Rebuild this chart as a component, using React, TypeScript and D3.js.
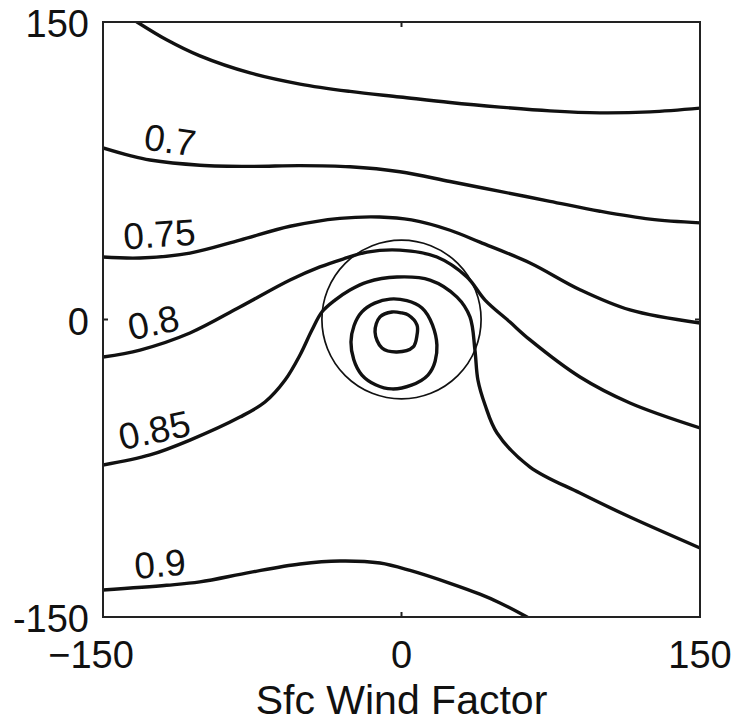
import React from "react";
import * as d3 from "d3";

// Contour lines of the response surface, in data units (x: wind factor, y: second factor)
const contour065: [number, number][] = [
  [-132.9, 150], [-117.8, 140.9], [-101.3, 132.9], [-76.1, 124.3], [-51.0, 118.7],
  [-25.9, 115.0], [-0.8, 112.2], [24.4, 109.4], [49.5, 107.1], [74.6, 105.2],
  [99.7, 104.2], [124.9, 104.7], [150, 106.6],
];
const contour070: [number, number][] = [
  [-150, 86.5], [-136.4, 82.6], [-126.4, 80.4], [-101.3, 77.8], [-76.1, 77.2],
  [-51.0, 77.6], [-25.9, 77.0], [-0.8, 74.5], [24.4, 69.6], [49.5, 64.6],
  [74.6, 59.6], [99.7, 54.6], [124.9, 50.6], [150, 48.7],
];
const contour075: [number, number][] = [
  [-150, 31.5], [-131.4, 31.0], [-106.3, 33.5], [-81.2, 40.0], [-56.0, 47.0],
  [-31.0, 51.0], [-11.0, 51.7], [5.0, 50.2], [24.4, 45.0], [39.4, 39.0],
  [64.6, 28.5], [89.7, 15.0], [114.8, 4.8], [150, -1.8],
];
const contour080: [number, number][] = [
  [-150, -18.9], [-131.4, -15.4], [-106.3, -6.8], [-81.2, 6.3], [-56.0, 19.9],
  [-41.0, 26.5], [-29.4, 30.5], [-17.3, 34.0], [-0.8, 35.0], [17.8, 31.5],
  [32.9, 21.4], [42.0, 9.8], [54.5, -1.3], [64.6, -10.3],
  [89.7, -29.0], [114.8, -42.1], [150, -54.7],
];
const contour085: [number, number][] = [
  [-150, -73.4], [-126.4, -68.3], [-106.3, -60.8], [-81.2, -49.2], [-68.6, -41.6],
  [-58.5, -30.5], [-51.0, -17.9], [-45.0, -5.3], [-40.0, 3.8], [-33.4, 9.8],
  [-25.9, 14.9], [-17.3, 18.9], [-2.3, 21.4], [14.3, 19.9], [27.9, 11.3],
  [34.4, 1.3], [36.9, -15.4], [38.4, -30.5], [42.0, -43.1], [48.0, -57.2],
  [64.6, -74.4], [89.7, -87.5], [114.8, -99.6], [150, -115.2],
];
const contour090: [number, number][] = [
  [-150, -136.4], [-118.0, -134.0], [-101.3, -132.3], [-76.1, -127.5], [-51.0, -123.3],
  [-30.9, -121.8], [-10.8, -122.8], [4.3, -126.5], [24.4, -133.0], [39.4, -138.5],
  [49.5, -142.9], [63.1, -150],
];
// Closed contours around the centre
const ringOuter: [number, number][] = [
  [-5.8, 10.3], [10.3, 5.8], [17.8, -12.9], [13.3, -28.0],
  [-4.8, -35.0], [-19.9, -28.0], [-25.4, -11.3], [-19.9, 3.8],
];
const ringInner: [number, number][] = [
  [-4.8, 3.8], [0.2, 3.3], [3.3, 2.3], [7.8, -2.8], [7.8, -7.8], [5.8, -13.9],
  [-2.3, -16.4], [-9.8, -14.4], [-13.3, -6.3], [-10.8, 1.3],
];
// Reference circle radius, centred on the origin
const circleRadius = 40;

const openContours = [
  { level: 0.65, points: contour065 },
  { level: 0.7, points: contour070 },
  { level: 0.75, points: contour075 },
  { level: 0.8, points: contour080 },
  { level: 0.85, points: contour085 },
  { level: 0.9, points: contour090 },
];
const closedContours = [ringOuter, ringInner];

const xTicks = [-150, 0, 150];
const yTicks = [-150, 0, 150];
const xTickText = ["\u2212150", "0", "150"];
const yTickText = ["-150", "0", "150"];
const xLabel = "Sfc Wind Factor";

// Inline labels: which contour, where along x, and text tilt in degrees
const contourLabels = [
  { level: 0.7, text: "0.7", x: -117.8, angle: 8 },
  { level: 0.75, text: "0.75", x: -120.9, angle: -4 },
  { level: 0.8, text: "0.8", x: -122.4, angle: -12 },
  { level: 0.85, text: "0.85", x: -121.9, angle: -12 },
  { level: 0.9, text: "0.9", x: -120.4, angle: -5 },
];

const W = 738;
const H = 723;
const FONT = "'Liberation Sans', Arial, Helvetica, sans-serif";

export default function App() {
  const x = d3.scaleLinear().domain([-150, 150]).range([103, 700]);
  const y = d3.scaleLinear().domain([-150, 150]).range([617, 22]);

  const openLine = d3
    .line<[number, number]>()
    .x((d) => x(d[0]))
    .y((d) => y(d[1]))
    .curve(d3.curveCatmullRom.alpha(0.5));
  const closedLine = d3
    .line<[number, number]>()
    .x((d) => x(d[0]))
    .y((d) => y(d[1]))
    .curve(d3.curveCatmullRomClosed.alpha(0.5));

  const yAt = (pts: [number, number][], xv: number) => {
    const i = Math.max(1, d3.bisector((d: [number, number]) => d[0]).left(pts, xv));
    const a = pts[i - 1];
    const b = pts[Math.min(i, pts.length - 1)];
    const t = b[0] === a[0] ? 0 : (xv - a[0]) / (b[0] - a[0]);
    return a[1] + t * (b[1] - a[1]);
  };

  const [x0, x1] = x.range();
  const [y0, y1] = [y.range()[1], y.range()[0]];

  return (
    <svg
      width={W}
      height={H}
      style={{ position: "absolute", left: 0, top: 0, background: "#fff" }}
      fontFamily={FONT}
    >
      <defs>
        <clipPath id="plotClip">
          <rect x={x0} y={y0} width={x1 - x0} height={y1 - y0} />
        </clipPath>
      </defs>
      <rect x={0} y={0} width={W} height={H} fill="#fff" />

      <g clipPath="url(#plotClip)" fill="none" stroke="#111" strokeLinejoin="round" strokeLinecap="round">
        {openContours.map((c) => (
          <path key={c.level} d={openLine(c.points) || ""} strokeWidth={3.4} />
        ))}
        {closedContours.map((c, i) => (
          <path key={i} d={closedLine(c) || ""} strokeWidth={3.4} />
        ))}
        <ellipse
          cx={x(0)}
          cy={y(0)}
          rx={x(circleRadius) - x(0)}
          ry={y(0) - y(circleRadius)}
          strokeWidth={1.7}
        />
      </g>

      {/* contour labels */}
      {contourLabels.map((l) => {
        const c = openContours.find((o) => o.level === l.level)!;
        const px = x(l.x);
        const py = y(yAt(c.points, l.x));
        return (
          <text
            key={l.text}
            transform={`translate(${px},${py}) rotate(${l.angle})`}
            y={-9}
            textAnchor="middle"
            fontSize={37}
            fill="#111"
          >
            {l.text}
          </text>
        );
      })}

      {/* frame */}
      <rect x={x0} y={y0} width={x1 - x0} height={y1 - y0} fill="none" stroke="#222" strokeWidth={2} />

      {/* inward ticks */}
      <g stroke="#222" strokeWidth={2}>
        {xTicks.map((t) => (
          <g key={"xt" + t}>
            <line x1={x(t)} x2={x(t)} y1={y1} y2={y1 - 5} />
            <line x1={x(t)} x2={x(t)} y1={y0} y2={y0 + 5} />
          </g>
        ))}
        {yTicks.map((t) => (
          <g key={"yt" + t}>
            <line x1={x0} x2={x0 + 5} y1={y(t)} y2={y(t)} />
            <line x1={x1} x2={x1 - 5} y1={y(t)} y2={y(t)} />
          </g>
        ))}
      </g>

      {/* tick labels */}
      <g fontSize={38} fill="#111">
        {xTicks.map((t, i) => (
          <text key={"xl" + t} x={x(t)} dx={t < 0 ? -12 : 0} y={y1 + 51} textAnchor="middle">
            {xTickText[i]}
          </text>
        ))}
        {yTicks.map((t, i) => (
          <text key={"yl" + t} x={x0 - 14} y={y(t) + 15} textAnchor="end">
            {yTickText[i]}
          </text>
        ))}
      </g>

      <text x={(x0 + x1) / 2} y={714} textAnchor="middle" fontSize={41} fill="#111">
        {xLabel}
      </text>
    </svg>
  );
}
